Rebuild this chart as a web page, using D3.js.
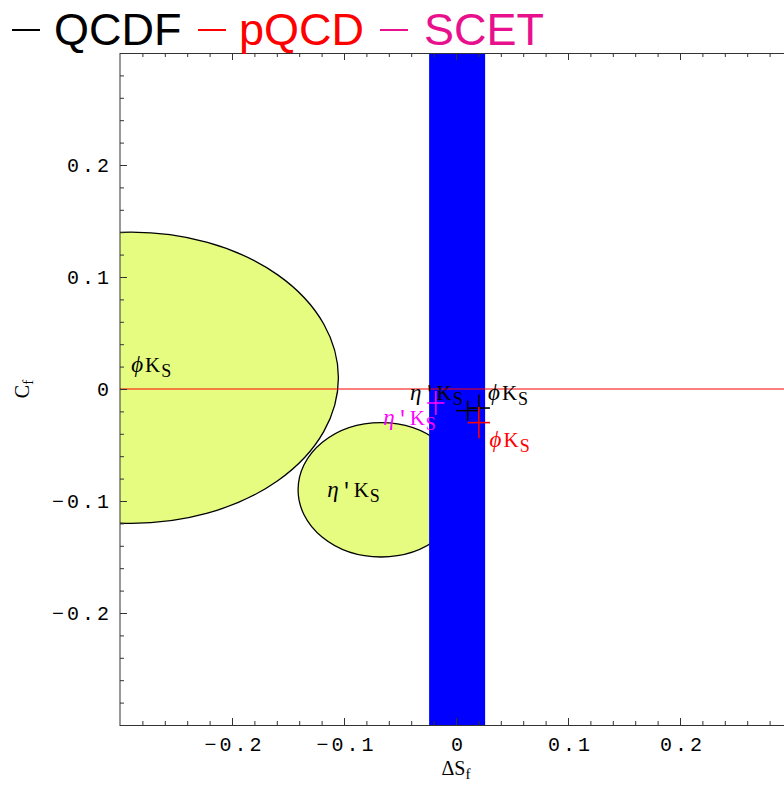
<!DOCTYPE html>
<html>
<head>
<meta charset="utf-8">
<script src="https://cdn.jsdelivr.net/npm/d3@7"></script>
<style>
  html, body { margin: 0; padding: 0; background: #fff; }
  svg { display: block; }
</style>
</head>
<body>
<svg id="chart" width="784" height="785"></svg>
<script>
// ---------------- data ----------------
const xDomain = [-0.3, 0.3];
const yDomain = [-0.3, 0.3];
const majorTicks = [-0.2, -0.1, 0, 0.1, 0.2];
const majorTickLabels = ["\u22120.2", "\u22120.1", "0", "0.1", "0.2"];
const minorTicks = d3.range(-14, 15).filter(i => i % 5 !== 0).map(i => i / 50);

// allowed regions (ellipses): center, semi-axes
const regionNames = ["ϕK_S", "η'K_S"];
const regionCx = [-0.29, -0.067];
const regionCy = [0.01, -0.09];
const regionRx = [0.185, 0.074];
const regionRy = [0.13, 0.06];

// experimental band in ΔS
const bandRange = [-0.024, 0.026];

// theory predictions (cross: center ± error)
const predModel = ["QCDF", "QCDF", "pQCD", "SCET"];
const predMode  = ["η'K_S", "ϕK_S", "ϕK_S", "η'K_S"];
const predX  = [0.0104, 0.0203, 0.0204, -0.018];
const predY  = [-0.0193, -0.0170, -0.0300, -0.0125];
const predEx = [0.0103, 0.0100, 0.0100, 0.0077];
const predEy = [0.0090, 0.0120, 0.0140, 0.0108];

const legendModels = ["QCDF", "pQCD", "SCET"];
const legendColors = ["#000000", "#ff0000", "#e8108c"];
const modelColor = { QCDF: "#000000", pQCD: "#ff0000", SCET: "#ff00ff" };

// text labels: [greek, rest], anchor in data coords
const labelText  = [["ϕ", "K"], ["η", "'K"], ["η", "'K"], ["ϕ", "K"], ["ϕ", "K"], ["η", "'K"]];
const labelX     = [-0.290, -0.115, -0.041, 0.0286, 0.030, -0.065];
const labelY     = [0.0152, -0.0964, -0.0098, -0.0098, -0.052, -0.032];
const labelColor = ["#000", "#000", "#000", "#000", "#ff0000", "#ff00ff"];

// ---------------- layout ----------------
const svg = d3.select("#chart");
const L = 120, R = 792, T = 53, B = 725;
const x = d3.scaleLinear().domain(xDomain).range([L, R]);
const y = d3.scaleLinear().domain(yDomain).range([B, T]);

svg.append("defs").append("clipPath").attr("id", "plotclip")
  .append("rect").attr("x", L).attr("y", T).attr("width", R - L).attr("height", B - T);

const plot = svg.append("g").attr("clip-path", "url(#plotclip)");

// ellipses
regionNames.forEach((n, i) => {
  plot.append("ellipse")
    .attr("cx", x(regionCx[i])).attr("cy", y(regionCy[i]))
    .attr("rx", x(regionCx[i] + regionRx[i]) - x(regionCx[i]))
    .attr("ry", y(regionCy[i]) - y(regionCy[i] + regionRy[i]))
    .attr("fill", "#e6fc80").attr("stroke", "#000").attr("stroke-width", 1.3);
});

// band
plot.append("rect")
  .attr("x", x(bandRange[0])).attr("y", T)
  .attr("width", x(bandRange[1]) - x(bandRange[0])).attr("height", B - T)
  .attr("fill", "#0000ff");

// zero line
plot.append("line")
  .attr("x1", x(xDomain[0])).attr("x2", x(xDomain[1]))
  .attr("y1", y(0)).attr("y2", y(0))
  .attr("stroke", "#ff0000").attr("stroke-width", 1.1);

// crosses
predX.forEach((px, i) => {
  const c = modelColor[predModel[i]];
  plot.append("line")
    .attr("x1", x(px - predEx[i])).attr("x2", x(px + predEx[i]))
    .attr("y1", y(predY[i])).attr("y2", y(predY[i]))
    .attr("stroke", c).attr("stroke-width", 1.6);
  plot.append("line")
    .attr("x1", x(px)).attr("x2", x(px))
    .attr("y1", y(predY[i] - predEy[i])).attr("y2", y(predY[i] + predEy[i]))
    .attr("stroke", c).attr("stroke-width", 1.6);
});

// labels
labelText.forEach((parts, i) => {
  const t = svg.append("text")
    .attr("x", x(labelX[i])).attr("y", y(labelY[i]))
    .attr("fill", labelColor[i])
    .attr("font-family", "Liberation Serif, serif");
  t.append("tspan").text(parts[0])
    .attr("font-style", "italic").attr("font-size", 23).attr("letter-spacing", 2);
  if (parts[1].startsWith("'")) {
    t.append("tspan").text("'").attr("font-family", "Liberation Mono, monospace")
      .attr("font-size", 20).attr("letter-spacing", 1);
  }
  t.append("tspan").text("K").attr("font-size", 21).attr("letter-spacing", 1);
  t.append("tspan").text("S").attr("font-size", 18).attr("dy", 5);
});

// axes
const axG = svg.append("g");
const fmt = (d, i) => majorTickLabels[i];
function styleAxis(g) {
  g.select(".domain").remove();
  g.selectAll(".tick line").attr("stroke", "#333").attr("stroke-width", 1);
}
// bottom
axG.append("g").attr("transform", `translate(0,${B})`)
  .call(d3.axisBottom(x).tickValues(majorTicks).tickFormat(fmt).tickSize(-7).tickPadding(12))
  .call(styleAxis)
  .call(g => g.selectAll("text").attr("font-family", "Liberation Mono, monospace")
    .attr("font-size", 20).attr("letter-spacing", 3).attr("fill", "#000").attr("dx", "0.1em"));
axG.append("g").attr("transform", `translate(0,${B})`)
  .call(d3.axisBottom(x).tickValues(minorTicks).tickFormat("").tickSize(-4))
  .call(styleAxis);
// top
axG.append("g").attr("transform", `translate(0,${T})`)
  .call(d3.axisTop(x).tickValues(majorTicks).tickFormat("").tickSize(-7))
  .call(styleAxis);
axG.append("g").attr("transform", `translate(0,${T})`)
  .call(d3.axisTop(x).tickValues(minorTicks).tickFormat("").tickSize(-4))
  .call(styleAxis);
// left
axG.append("g").attr("transform", `translate(${L},0)`)
  .call(d3.axisLeft(y).tickValues(majorTicks).tickFormat(fmt).tickSize(-7).tickPadding(8))
  .call(styleAxis)
  .call(g => g.selectAll("text").attr("font-family", "Liberation Mono, monospace")
    .attr("font-size", 20).attr("letter-spacing", 3).attr("fill", "#000"));
axG.append("g").attr("transform", `translate(${L},0)`)
  .call(d3.axisLeft(y).tickValues(minorTicks).tickFormat("").tickSize(-4))
  .call(styleAxis);
// right
axG.append("g").attr("transform", `translate(${R},0)`)
  .call(d3.axisRight(y).tickValues(majorTicks).tickFormat("").tickSize(-7))
  .call(styleAxis);

// frame
svg.append("rect").attr("x", L).attr("y", T + 0.5).attr("width", R - L).attr("height", B - T)
  .attr("fill", "none").attr("stroke", "#333").attr("stroke-width", 1);

// axis titles
const xt = svg.append("text").attr("x", x(0)).attr("y", 775).attr("text-anchor", "middle")
  .attr("font-family", "Liberation Serif, serif").attr("font-size", 20);
xt.append("tspan").text("ΔS");
xt.append("tspan").text("f").attr("font-size", 15).attr("dy", 4);

const yt = svg.append("text").attr("transform", `translate(29,${y(0)}) rotate(-90)`)
  .attr("text-anchor", "middle")
  .attr("font-family", "Liberation Serif, serif").attr("font-size", 20);
yt.append("tspan").text("C");
yt.append("tspan").text("f").attr("font-size", 15).attr("dy", 4);

// legend: short dash + model name
const legDashX = [12, 198, 380];
const legTextX = [54, 239, 424];
legendModels.forEach((m, i) => {
  svg.append("line").attr("x1", legDashX[i]).attr("x2", legDashX[i] + 28)
    .attr("y1", 30).attr("y2", 30)
    .attr("stroke", legendColors[i]).attr("stroke-width", 2);
  svg.append("text").attr("x", legTextX[i]).attr("y", 45)
    .attr("font-family", "Liberation Sans, Arial, sans-serif").attr("font-size", 45)
    .attr("fill", legendColors[i]).text(m);
});
</script>
</body>
</html>
